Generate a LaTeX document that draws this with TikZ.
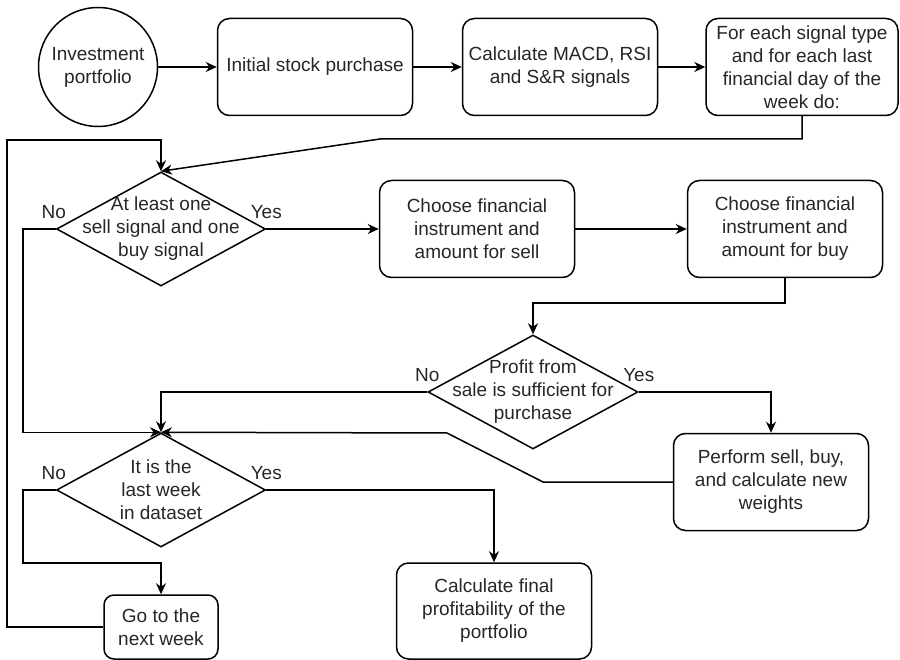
\documentclass[tikz,border=0pt]{standalone}
\usepackage{fontspec}
\setmainfont{Liberation Sans}
\usetikzlibrary{arrows.meta, shapes.geometric, positioning}

\begin{document}
\begin{tikzpicture}[x=1pt, y=-1pt,
		>={Stealth[length=11pt, width=10pt]},   %Voreinstellung für Pfeilspitzen
		font=\fontsize{19}{23}\selectfont, line width=1.5pt,
		every node/.style={text=black!85},
		process/.style={draw, rounded corners=12pt, minimum width=195pt, minimum height=97pt, align=center, inner sep=2pt},
		decision/.style={draw, diamond, minimum width=209pt, minimum height=114pt, inner sep=0pt},
		dtext/.style={align=center},
		lbl/.style={inner sep=0pt, above=10pt}]
		\useasboundingbox (0,0) rectangle (900,660);
		% Knoten zeichnen
		\node[draw, circle, minimum size=119pt, inner sep=0pt, align=center] (inv) at (98,67) {Investment\\portfolio};
		\node[process] (init) at (315,67) {Initial stock purchase};
		\node[process] (macd) at (560,67) {Calculate MACD, RSI\\and S\&R signals};
		\node[process, minimum width=192pt] (fore) at (802,67) {For each signal type\\and for each last\\financial day of the\\week do:};
		\node[decision, label={[dtext]center:{At least one\\sell signal and one\\buy signal}}] (sig) at (161,229) {};
		\node[process] (sell) at (477,229) {Choose financial\\instrument and\\amount for sell};
		\node[process] (buy) at (785,229) {Choose financial\\instrument and\\amount for buy};
		\node[decision, minimum width=210pt, label={[dtext]center:{Profit from\\sale is sufficient for\\purchase}}] (prof) at (533,392) {};
		\node[process] (perf) at (771,482) {Perform sell, buy,\\and calculate new\\weights};
		\node[decision, label={[dtext]center:{It is the\\last week\\in dataset}}] (last) at (161,490) {};
		\node[process, minimum width=114pt, minimum height=64pt, rounded corners=10pt] (next) at (161,627) {Go to the\\next week};
		\node[process, minimum height=96pt] (final) at (494,611) {Calculate final\\profitability of the\\portfolio};
		% Pfeile zeichnen
		\draw[->] (inv) -- (init);
		\draw[->] (init) -- (macd);
		\draw[->] (macd) -- (fore);
		\draw[->] (fore.south) |- (380,139) -- (sig.north);
		\draw[->] (next.west) -| (7,140) -| (sig.north);
		\draw[->] (sig.east) node[lbl] {Yes} -- (sell.west);
		\draw[->] (sig.west) node[lbl, xshift=-2pt] {No} -- (23,229) |- (last.north);
		\draw[->] (sell) -- (buy);
		\draw[->] (buy.south) -- (785,303) -| (prof.north);
		\draw[->] (prof.west) node[lbl] {No} -| (last.north);
		\draw[->] (prof.east) node[lbl] {Yes} -| (perf.north);
		\draw[->] (perf.west) -- (543,482) -- (447,433) -- (last.north);
		\draw[->] (last.west) node[lbl, xshift=-2pt] {No} -| (23,563) -| (next.north);
		\draw[->] (last.east) node[lbl] {Yes} -| (final.north);
	\end{tikzpicture}
\end{document}
